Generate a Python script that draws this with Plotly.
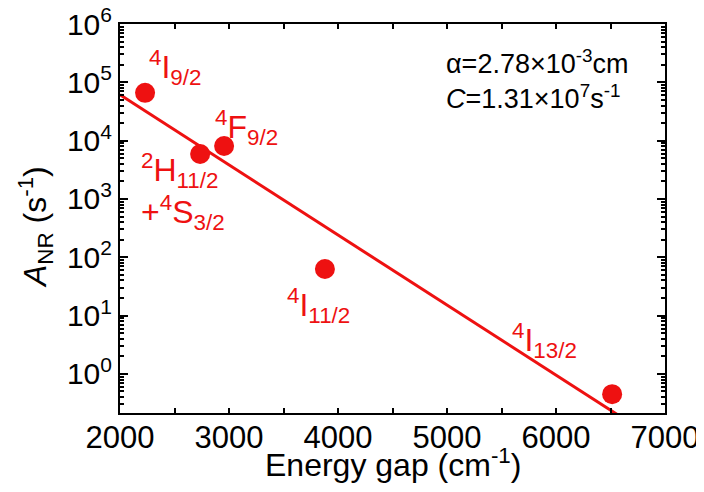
import plotly.graph_objects as go

# ---- data ----
energy_gap = [2230, 2735, 2955, 3880, 6515]          # cm^-1
a_nr = [6.6e4, 5.9e3, 8.1e3, 63, 0.45]               # s^-1
fit_x = [2000, 6650]
fit_y = [6.1e4, 0.158]

state_labels = [
    "<sup>4</sup>I<sub>9/2</sub>",
    "<sup>2</sup>H<sub>11/2</sub><br>+<sup>4</sup>S<sub>3/2</sub>",
    "<sup>4</sup>F<sub>9/2</sub>",
    "<sup>4</sup>I<sub>11/2</sub>",
    "<sup>4</sup>I<sub>13/2</sub>",
]
x_ticks = [2000, 3000, 4000, 5000, 6000, 7000]
x_tick_text = ["2000", "3000", "4000", "5000", "6000", "7000"]
y_ticks = [1e0, 1e1, 1e2, 1e3, 1e4, 1e5, 1e6]
y_tick_text = ["10<sup>0</sup>", "10<sup>1</sup>", "10<sup>2</sup>", "10<sup>3</sup>",
               "10<sup>4</sup>", "10<sup>5</sup>", "10<sup>6</sup>"]
fit_text = "α=2.78×10<sup>-3</sup>cm<br><i>C</i>=1.31×10<sup>7</sup>s<sup>-1</sup>"
x_title = "Energy gap (cm<sup>-1</sup>)"
y_title = "<i>A</i><sub>NR</sub> (s<sup>-1</sup>)"

RED = "#ee1111"
FONT = "Liberation Sans, Arial, sans-serif"

# label anchor positions (x data, log10 y)
label_pos = [(2505, 5.25), (2580, 3.13), (3165, 4.22), (3820, 1.18), (5890, 0.58)]

y_minor = [m * 10 ** e for e in range(-1, 6) for m in range(2, 10)]

fig = go.Figure()
fig.add_trace(go.Scatter(x=fit_x, y=fit_y, mode="lines",
                         line=dict(color=RED, width=3), showlegend=False))
fig.add_trace(go.Scatter(x=energy_gap, y=a_nr, mode="markers",
                         marker=dict(color=RED, size=20, line=dict(width=0)),
                         showlegend=False))

for txt, (lx, ly) in zip(state_labels, label_pos):
    fig.add_annotation(x=lx, y=ly, xref="x", yref="y", text=txt, showarrow=False,
                       font=dict(family=FONT, size=32, color=RED),
                       xanchor="center", yanchor="middle", align="left")

fig.add_annotation(x=0.594, y=0.95, xref="paper", yref="paper", text=fit_text,
                   showarrow=False, xanchor="left", yanchor="top", align="left",
                   font=dict(family=FONT, size=27, color="black"))

fig.add_annotation(x=0.5, y=-0.1285, xref="paper", yref="paper", text=x_title,
                   showarrow=False, xanchor="center", yanchor="middle",
                   font=dict(family=FONT, size=32, color="black"))
fig.add_annotation(x=-0.156, y=0.478, xref="paper", yref="paper", text=y_title,
                   showarrow=False, xanchor="center", yanchor="middle", textangle=-90,
                   font=dict(family=FONT, size=32, color="black"))

fig.update_layout(
    width=696, height=484,
    margin=dict(l=112, r=39, t=16, b=79),
    paper_bgcolor="white", plot_bgcolor="white",
    font=dict(family=FONT, size=30, color="black"),
    xaxis=dict(
        range=[2000, 7000], tickmode="array", tickvals=x_ticks, ticktext=x_tick_text,
        ticks="inside", ticklen=5, tickwidth=2, tickcolor="black",
        minor=dict(dtick=500, tick0=2000, ticks="inside", ticklen=5, tickwidth=2, tickcolor="black"),
        showline=True, linecolor="black", linewidth=2, mirror="allticks",
        showgrid=False, zeroline=False, automargin=False,
        tickfont=dict(size=31), ticklabelstandoff=-4, ticklabeloverflow="allow",
    ),
    yaxis=dict(
        type="log", range=[-0.67, 6.0], tickmode="array", tickvals=y_ticks, ticktext=y_tick_text,
        ticks="inside", ticklen=8, tickwidth=2, tickcolor="black",
        minor=dict(tickmode="array", tickvals=y_minor, ticks="inside", ticklen=4,
                   tickwidth=1.5, tickcolor="black"),
        showline=True, linecolor="black", linewidth=2, mirror="allticks",
        showgrid=False, zeroline=False, automargin=False,
        tickfont=dict(size=30), ticklabeloverflow="allow",
    ),
)

fig.write_html("out.html")
